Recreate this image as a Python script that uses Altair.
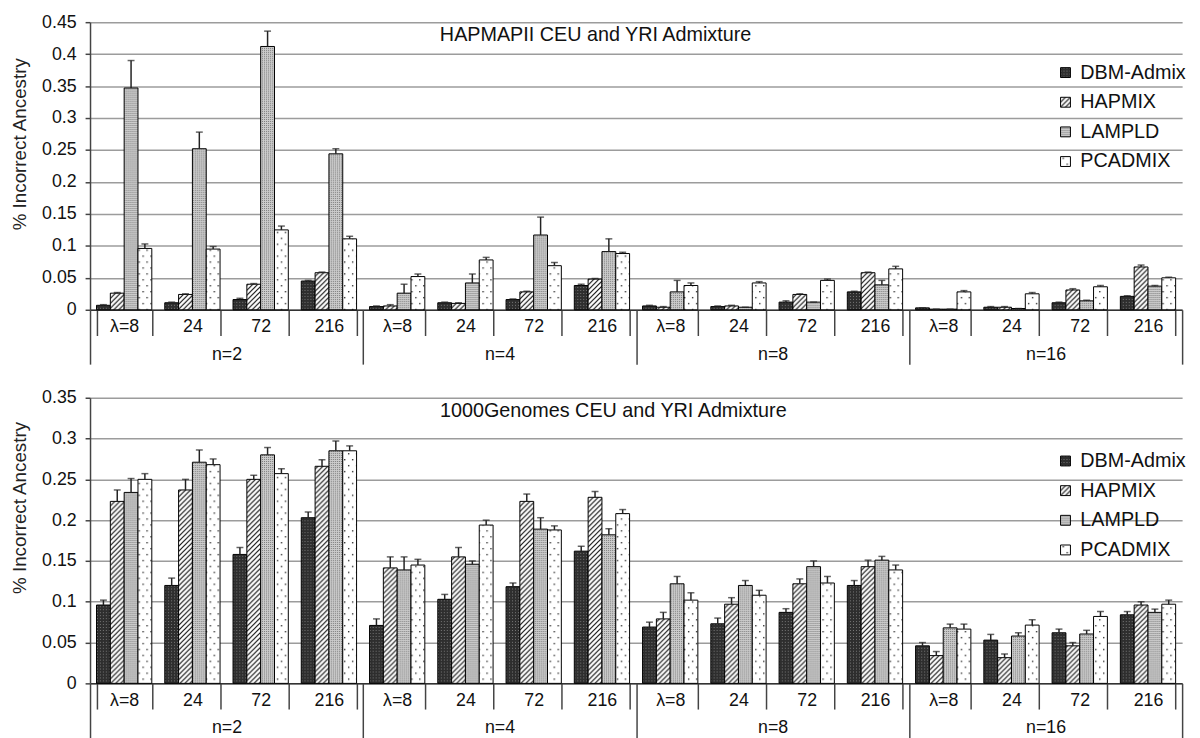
import altair as alt
import pandas as pd
import jinja2

# ---------------- data ----------------
n_groups = ["n=2", "n=4", "n=8", "n=16"]
lambdas = ["λ=8", "24", "72", "216"]
methods = ["DBM-Admix", "HAPMIX", "LAMPLD", "PCADMIX"]

# HAPMAPII panel (order: n=2 λ8,24,72,216, n=4 ..., n=8 ..., n=16 ...)
hm_dbm = [0.007, 0.011, 0.016, 0.045, 0.005, 0.011, 0.016, 0.038, 0.006, 0.005, 0.012, 0.028, 0.003, 0.004, 0.011, 0.021]
hm_dbm_err = [0.008, 0.012, 0.018, 0.046, 0.006, 0.012, 0.017, 0.040, 0.007, 0.006, 0.014, 0.029, 0.003, 0.005, 0.012, 0.022]
hm_hap = [0.026, 0.024, 0.040, 0.058, 0.006, 0.010, 0.028, 0.048, 0.004, 0.006, 0.024, 0.058, 0.001, 0.004, 0.031, 0.067]
hm_hap_err = [0.027, 0.025, 0.041, 0.059, 0.008, 0.011, 0.029, 0.049, 0.005, 0.007, 0.025, 0.059, 0.001, 0.005, 0.033, 0.070]
hm_lam = [0.347, 0.252, 0.412, 0.244, 0.026, 0.042, 0.117, 0.091, 0.028, 0.004, 0.012, 0.039, 0.001, 0.002, 0.014, 0.037]
hm_lam_err = [0.390, 0.278, 0.436, 0.252, 0.040, 0.056, 0.145, 0.111, 0.046, 0.004, 0.012, 0.046, 0.001, 0.002, 0.015, 0.038]
hm_pca = [0.096, 0.095, 0.125, 0.111, 0.052, 0.078, 0.069, 0.088, 0.038, 0.042, 0.046, 0.064, 0.028, 0.025, 0.036, 0.050]
hm_pca_err = [0.103, 0.099, 0.131, 0.115, 0.056, 0.082, 0.074, 0.090, 0.042, 0.044, 0.048, 0.068, 0.030, 0.027, 0.038, 0.051]

# 1000Genomes panel
kg_dbm = [0.096, 0.120, 0.158, 0.203, 0.071, 0.103, 0.1185, 0.162, 0.069, 0.073, 0.087, 0.120, 0.046, 0.053, 0.062, 0.084]
kg_dbm_err = [0.102, 0.129, 0.1665, 0.210, 0.079, 0.109, 0.123, 0.168, 0.075, 0.080, 0.0915, 0.126, 0.050, 0.060, 0.0665, 0.088]
kg_hap = [0.223, 0.237, 0.250, 0.266, 0.1415, 0.155, 0.223, 0.228, 0.079, 0.097, 0.122, 0.143, 0.034, 0.0315, 0.046, 0.096]
kg_hap_err = [0.237, 0.250, 0.255, 0.274, 0.155, 0.1665, 0.232, 0.235, 0.087, 0.105, 0.128, 0.151, 0.039, 0.036, 0.050, 0.100]
kg_lam = [0.234, 0.271, 0.280, 0.285, 0.139, 0.146, 0.189, 0.182, 0.122, 0.120, 0.143, 0.151, 0.068, 0.058, 0.0605, 0.087]
kg_lam_err = [0.251, 0.286, 0.289, 0.297, 0.155, 0.150, 0.203, 0.1895, 0.131, 0.126, 0.150, 0.1556, 0.0726, 0.062, 0.065, 0.091]
kg_pca = [0.250, 0.268, 0.257, 0.285, 0.145, 0.194, 0.188, 0.208, 0.102, 0.108, 0.123, 0.139, 0.0665, 0.0714, 0.082, 0.097]
kg_pca_err = [0.257, 0.275, 0.263, 0.291, 0.152, 0.200, 0.193, 0.213, 0.111, 0.114, 0.131, 0.145, 0.0726, 0.078, 0.088, 0.102]

top_ticks = [0, 0.05, 0.1, 0.15, 0.2, 0.25, 0.3, 0.35, 0.4, 0.45]
bottom_ticks = [0, 0.05, 0.1, 0.15, 0.2, 0.25, 0.3, 0.35]

top_title = "HAPMAPII CEU and YRI Admixture"
bottom_title = "1000Genomes CEU and YRI Admixture"
y_title = "% Incorrect Ancestry"

cluster_order = [f"{n}|{lam}" for n in n_groups for lam in lambdas]
pattern_fills = ["url(#pDBM)", "url(#pHAP)", "url(#pLAM)", "url(#pPCA)"]
FONT = "Liberation Sans"


def build(vals, errs):
    rows = []
    for m, vl, el in zip(methods, vals, errs):
        i = 0
        for n in n_groups:
            for lam in lambdas:
                rows.append({"cluster": f"{n}|{lam}", "n": n, "lam": lam,
                             "method": m, "value": vl[i], "err": el[i]})
                i += 1
    return pd.DataFrame(rows)


df_top = build([hm_dbm, hm_hap, hm_lam, hm_pca], [hm_dbm_err, hm_hap_err, hm_lam_err, hm_pca_err])
df_bot = build([kg_dbm, kg_hap, kg_lam, kg_pca], [kg_dbm_err, kg_hap_err, kg_lam_err, kg_pca_err])


def panel(df, ymax, ticks, height, title, title_dx, legend_y, ytitle_y):
    x = alt.X("cluster:N", sort=cluster_order, title=None,
              scale=alt.Scale(paddingInner=0.19, paddingOuter=0.095),
              axis=alt.Axis(orient="bottom", labelExpr="split(datum.label, '|')[1]",
                            tickBand="extent", tickSize=26, tickWidth=1.5, tickColor="#444",
                            domainColor="#333", domainWidth=1.5, labelBaseline="middle",
                            labelPadding=-9, labelFontSize=18, labelColor="#111",
                            labelFont=FONT, grid=False, labelAngle=0))
    xo = alt.XOffset("method:N", sort=methods,
                     scale=alt.Scale(paddingInner=0, paddingOuter=0))
    yscale = alt.Scale(domain=[0, ymax], nice=False)
    yaxis = alt.Axis(values=ticks, format="~g", labelFontSize=18, labelPadding=9,
                     labelColor="#111", labelFont=FONT,
                     tickSize=5, tickColor="#444", tickWidth=1.5,
                     domainColor="#444", domainWidth=1.5,
                     gridColor="#9c9c9c", gridWidth=1.5,
                     titleFontSize=19, titleFontWeight="normal", titleColor="#222",
                     titleFont=FONT, titlePadding=12, titleY=ytitle_y)
    y_val = alt.Y("value:Q", title=y_title, scale=yscale, axis=yaxis)
    y_err = alt.Y("err:Q", title=y_title, scale=yscale, axis=yaxis)

    base = alt.Chart(df).encode(x=x, xOffset=xo)
    bars = base.mark_bar(stroke="black", strokeWidth=1).encode(
        y=y_val,
        fill=alt.Fill("method:N", sort=methods,
                      scale=alt.Scale(domain=methods, range=pattern_fills),
                      legend=alt.Legend(orient="none", legendX=977, legendY=legend_y,
                                        title=None, symbolType="square", symbolSize=100,
                                        symbolStrokeColor="black", symbolStrokeWidth=1,
                                        labelFontSize=20, labelFont=FONT, labelColor="#111",
                                        labelOffset=5, rowPadding=10)),
    )
    rules = base.mark_rule(color="#222", strokeWidth=1.5).encode(y=y_val, y2="err:Q")
    caps = base.mark_tick(color="#222", thickness=1.5, size=7, orient="horizontal").encode(y=y_err)
    inner = alt.layer(bars, rules, caps)

    naxis = alt.Chart(pd.DataFrame({"n": n_groups})).mark_rule(opacity=0).encode(
        x=alt.X("n:N", sort=n_groups, title=None,
                scale=alt.Scale(paddingInner=0, paddingOuter=0),
                axis=alt.Axis(orient="bottom", offset=0, domain=False,
                              tickBand="extent", tickSize=55, tickWidth=1.5, tickColor="#444",
                              labelBaseline="middle", labelPadding=-10, labelFontSize=18,
                              labelColor="#111", labelFont=FONT, grid=False, labelAngle=0))
    )
    return alt.layer(inner, naxis).resolve_scale(x="independent").properties(
        width=1105, height=height,
        title=alt.TitleParams(text=title, fontSize=20, fontWeight="normal", color="#111",
                              font=FONT, anchor="middle", frame="group", offset=-32,
                              dx=title_dx),
    )


top = panel(df_top, 0.45, top_ticks, 291, top_title, -41, 41, 123)
bottom = panel(df_bot, 0.35, bottom_ticks, 289, bottom_title, -23, 54, 111)

chart = alt.vconcat(top, bottom, spacing=22).resolve_scale(fill="independent").properties(
    padding={"left": 2, "top": 0, "right": 5, "bottom": 0}
).configure(font=FONT).configure_view(stroke="transparent")

PATTERN_DEFS = """
<svg width="0" height="0" style="position:absolute;left:0;top:0">
  <defs>
    <pattern id="pDBM" width="3" height="3" patternUnits="userSpaceOnUse">
      <rect width="3" height="3" fill="#2e2e2e"/>
      <rect x="1" y="1" width="1" height="1" fill="#777777"/>
    </pattern>
    <pattern id="pHAP" width="5" height="5" patternUnits="userSpaceOnUse">
      <rect width="5" height="5" fill="#ffffff"/>
      <path d="M-1,1 l2,-2 M0,5 l5,-5 M4,6 l2,-2" stroke="#111111" stroke-width="1.2"/>
    </pattern>
    <pattern id="pLAM" width="2" height="2" patternUnits="userSpaceOnUse">
      <rect width="2" height="2" fill="#cccccc"/>
      <rect width="1" height="1" fill="#7c7c7c"/>
    </pattern>
    <pattern id="pPCA" width="8" height="12" patternUnits="userSpaceOnUse">
      <rect width="8" height="12" fill="#ffffff"/>
      <rect x="1" y="2" width="1.4" height="1.4" fill="#333333"/>
      <rect x="5" y="8" width="1.4" height="1.4" fill="#333333"/>
    </pattern>
  </defs>
</svg>
"""

TEMPLATE = jinja2.Template("""<!DOCTYPE html>
<html>
<head>
  <meta charset="utf-8">
  <style>
    body { overflow: hidden; }
    #{{ output_div }}.vega-embed { width: 100%; display: flex; }
  </style>
  <script type="text/javascript" src="{{ base_url }}/vega@{{ vega_version }}"></script>
  <script type="text/javascript" src="{{ base_url }}/vega-lite@{{ vegalite_version }}"></script>
  <script type="text/javascript" src="{{ base_url }}/vega-embed@{{ vegaembed_version }}"></script>
</head>
<body>
""" + PATTERN_DEFS + """
  <div id="{{ output_div }}"></div>
  <script>
    (function(vegaEmbed) {
      var spec = {{ spec }};
      var embedOpt = {{ embed_options }};
      vegaEmbed("#{{ output_div }}", spec, embedOpt).catch(function(error) {
        document.getElementById("{{ output_div }}").innerHTML = '<p style="color:red">' + error.message + '</p>';
      });
    })(vegaEmbed);
  </script>
</body>
</html>
""")

chart.save("out.html", embed_options={"renderer": "svg", "actions": False}, template=TEMPLATE)
